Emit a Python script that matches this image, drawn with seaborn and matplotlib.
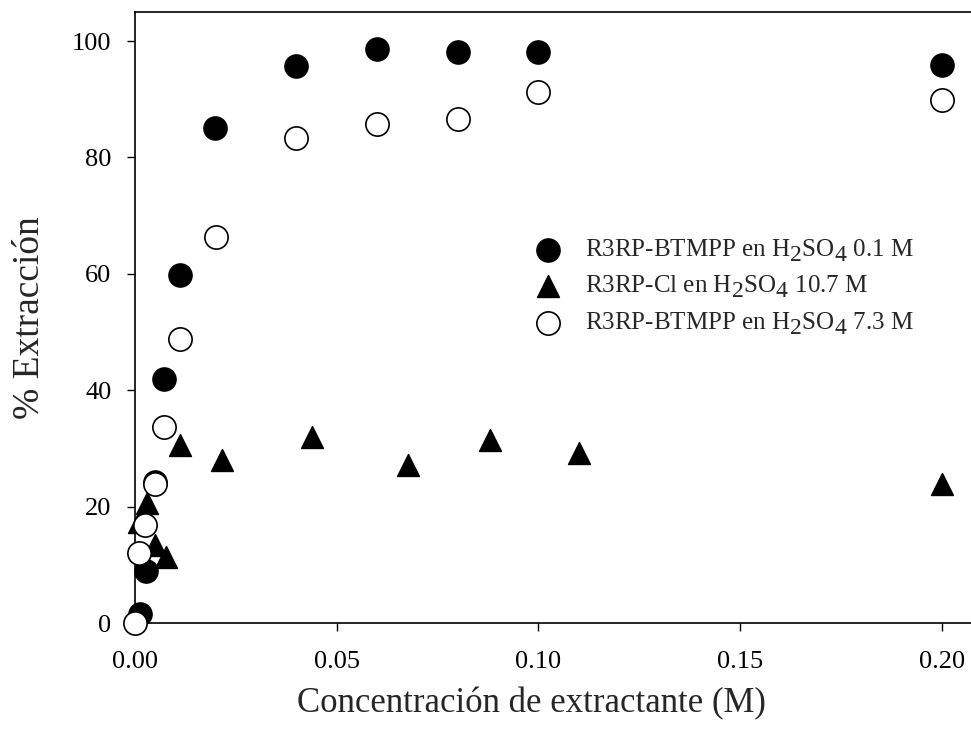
import numpy as np
import pandas as pd
import seaborn as sns
import matplotlib
import matplotlib.pyplot as plt

# the reference draws subscripts at almost full size and a bit lower
matplotlib._mathtext.SHRINK_FACTOR = 0.95
matplotlib._mathtext.FontConstantsBase.sub1 = 0.45

# data
x_btmpp_01 = [0.0012, 0.0027, 0.005, 0.0072, 0.0112, 0.0198, 0.040, 0.060, 0.080, 0.100, 0.200]
y_btmpp_01 = [1.5, 8.9, 24.3, 42.0, 59.8, 85.0, 95.8, 98.6, 98.2, 98.2, 95.9]

x_cl_107 = [0.001, 0.003, 0.005, 0.0077, 0.0112, 0.0216, 0.0439, 0.0677, 0.088, 0.110, 0.200]
y_cl_107 = [17.4, 20.6, 13.4, 11.3, 30.6, 28.0, 32.0, 27.1, 31.4, 29.2, 23.9]

x_btmpp_73 = [0.0, 0.001, 0.0025, 0.005, 0.0072, 0.0112, 0.020, 0.040, 0.060, 0.080, 0.100, 0.200]
y_btmpp_73 = [0.0, 12.0, 16.8, 23.9, 33.7, 48.8, 66.3, 83.3, 85.7, 86.6, 91.2, 89.9]

labels = [r"R3RP-BTMPP en H$_2$SO$_4$ 0.1 M",
          r"R3RP-Cl en H$_2$SO$_4$ 10.7 M",
          r"R3RP-BTMPP en H$_2$SO$_4$ 7.3 M"]

df1 = pd.DataFrame({"x": x_btmpp_01, "y": y_btmpp_01})
df2 = pd.DataFrame({"x": x_cl_107, "y": y_cl_107})
df3 = pd.DataFrame({"x": x_btmpp_73, "y": y_btmpp_73})

sns.set_style("ticks")
plt.rcParams["font.family"] = ["Liberation Serif", "DejaVu Serif"]
plt.rcParams["mathtext.fontset"] = "custom"
plt.rcParams["mathtext.rm"] = "Liberation Serif"
plt.rcParams["mathtext.it"] = "Liberation Serif:italic"

fig = plt.figure(figsize=(9.71, 7.41), dpi=100)
ax = fig.add_axes([135/971, 118/741, 847/971, 611/741])

sns.scatterplot(data=df1, x="x", y="y", ax=ax, marker="o", s=280, color="black",
                edgecolor="black", linewidth=1, label=labels[0], clip_on=False, zorder=3)
sns.scatterplot(data=df2, x="x", y="y", ax=ax, marker="^", s=250, color="black",
                edgecolor="black", linewidth=1, label=labels[1], clip_on=False, zorder=4)
sns.scatterplot(data=df3, x="x", y="y", ax=ax, marker="o", s=280, color="white",
                edgecolor="black", linewidth=1.2, label=labels[2], clip_on=False, zorder=5)

ax.set_xlim(0, 0.21)
ax.set_ylim(0, 105)
ax.set_xticks([0, 0.05, 0.10, 0.15, 0.20])
ax.set_xticklabels(["0.00", "0.05", "0.10", "0.15", "0.20"])
ax.set_yticks([0, 20, 40, 60, 80, 100])
ax.tick_params(direction="out", length=6, width=1, labelsize=19, colors="black")
ax.tick_params(axis="x", pad=14)
ax.tick_params(axis="y", pad=11)
for sp in ax.spines.values():
    sp.set_visible(True)
    sp.set_color("black")
    sp.set_linewidth(1.2)

ax.set_xlabel("Concentración de extractante (M)", fontsize=25)
ax.set_ylabel("% Extracción", fontsize=27)
ax.xaxis.set_label_coords(0.4675, -0.105)
ax.yaxis.set_label_coords(-0.104, 0.5)

ax.legend(loc="center left", bbox_to_anchor=(0.437, 0.55), frameon=False,
          fontsize=18, handlelength=1.6, handletextpad=0.68, labelspacing=0.4,
          markerscale=1.0)

plt.savefig("out.png", dpi=100)
